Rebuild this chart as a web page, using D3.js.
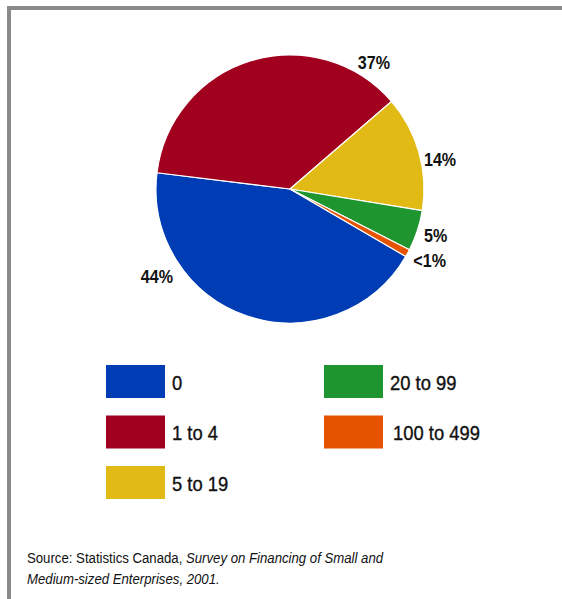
<!DOCTYPE html>
<html>
<head>
<meta charset="utf-8">
<script src="https://cdn.jsdelivr.net/npm/d3@7"></script>
<style>
  html, body { margin: 0; padding: 0; background: #fff; }
  svg { display: block; }
  text { font-family: "Liberation Sans", Arial, sans-serif; fill: #111; }
</style>
</head>
<body>
<svg id="chart" width="562" height="599"></svg>
<script>
// Share of firms by number of employees
const categories = ["0", "1 to 4", "5 to 19", "20 to 99", "100 to 499"];
const shares = [43.5, 36.7, 13.9, 4.9, 0.9];
const valueLabels = ["44%", "37%", "14%", "5%", "<1%"];
const colors = ["#003db5", "#a1001f", "#e1ba16", "#1e952f", "#e55300"];

// label placement around the pie: [angle in degrees clockwise from 12 o'clock, distance from centre]
const labelPolar = [[236.8, 159], [33.5, 152], [78.7, 153], [107.8, 153], [117.2, 157]];

const svg = d3.select("#chart");
const W = 562, H = 599;

// place a text at (x, y), squeezed horizontally around its anchor for a condensed look
function narrowText(parent, x, y, size, squeeze, anchor) {
  return parent.append("g")
    .attr("transform", `translate(${x},${y}) scale(${squeeze},1)`)
    .append("text")
    .attr("font-size", size)
    .attr("text-anchor", anchor || "start");
}

// frame: grey rule along top and left
svg.append("path")
  .attr("d", `M9,${H} V8 H${W}`)
  .attr("fill", "none")
  .attr("stroke", "#8a8a8a")
  .attr("stroke-width", 4);

const cx = 290, cy = 189, R = 134;
const data = categories.map((c, i) => ({ cat: c, value: shares[i], label: valueLabels[i], color: colors[i], lp: labelPolar[i] }));

const start = 120.2 * Math.PI / 180;
const pie = d3.pie().value(d => d.value).sort(null)
  .startAngle(start).endAngle(start + 2 * Math.PI);
const arc = d3.arc().innerRadius(0).outerRadius(R);

const g = svg.append("g").attr("transform", `translate(${cx},${cy})`);
g.selectAll("path.slice")
  .data(pie(data))
  .join("path")
  .attr("class", "slice")
  .attr("d", arc)
  .attr("fill", d => d.data.color)
  .attr("stroke", "#fff")
  .attr("stroke-width", 1.2)
  .attr("stroke-linejoin", "round");

// percentage labels
data.forEach(d => {
  const a = d.lp[0] * Math.PI / 180;
  narrowText(g, d.lp[1] * Math.sin(a), -d.lp[1] * Math.cos(a) + 6.5, 18.5, 0.87, "middle")
    .attr("font-weight", "bold")
    .text(d.label);
});

// legend: two columns
const legendCols = [106, 324];
const legendRows = [365, 415.5, 466];
data.forEach((d, i) => {
  const col = i < 3 ? 0 : 1;
  const row = i < 3 ? i : i - 3;
  const item = svg.append("g")
    .attr("transform", `translate(${legendCols[col]},${legendRows[row]})`);
  item.append("rect")
    .attr("width", 59)
    .attr("height", 33)
    .attr("fill", d.color);
  narrowText(item, i === 4 ? 69 : 66, 24.5, 20, 0.92)
    .attr("stroke", "#111")
    .attr("stroke-width", 0.35)
    .text(d.cat);
});

// source note
const note = narrowText(svg, 27, 563, 15, 0.88);
note.append("tspan").text("Source: Statistics Canada, ");
note.append("tspan").attr("font-style", "italic").text("Survey on Financing of Small and");
narrowText(svg, 27, 584, 15, 0.88).attr("font-style", "italic").text("Medium-sized Enterprises, 2001.");
</script>
</body>
</html>
